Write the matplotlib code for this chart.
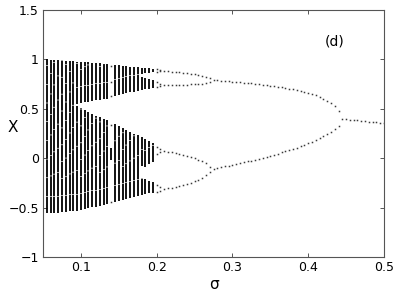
import matplotlib
matplotlib.use('Agg')
import matplotlib.pyplot as plt
import numpy as np

nan = np.nan

# chaotic columns: full band from bottom to top, split by a gap where given
chaos_sigma = [0.05, 0.055, 0.06, 0.065, 0.07, 0.075, 0.08, 0.085, 0.09,
               0.095, 0.1, 0.105, 0.11, 0.115, 0.12, 0.125, 0.13, 0.135,
               0.145, 0.15, 0.155, 0.16, 0.165, 0.17, 0.175]
chaos_top = [1.0, 1.0, 0.998, 0.995, 0.992, 0.99, 0.987, 0.984, 0.981,
             0.978, 0.975, 0.972, 0.969, 0.966, 0.963, 0.96, 0.956, 0.952,
             0.945, 0.94, 0.936, 0.932, 0.928, 0.924, 0.92]
chaos_bottom = [-0.56, -0.558, -0.556, -0.553, -0.55, -0.547, -0.543, -0.539,
                -0.535, -0.53, -0.525, -0.515, -0.505, -0.497, -0.49, -0.482,
                -0.474, -0.465, -0.445, -0.435, -0.425, -0.415, -0.405,
                -0.395, -0.385]
gap_upper = [nan, nan, nan, nan, nan, nan, nan, nan, nan,
             0.55, 0.56, 0.565, 0.57, 0.578, 0.585, 0.59, 0.595, 0.60,
             0.625, 0.635, 0.645, 0.655, 0.665, 0.675, 0.685]
gap_lower = [nan, nan, nan, nan, nan, nan, nan, nan, nan,
             0.53, 0.51, 0.49, 0.47, 0.45, 0.43, 0.415, 0.40, 0.385,
             0.35, 0.33, 0.31, 0.29, 0.27, 0.25, 0.23]

# periodic window inside the chaos
window_sigma = 0.14
window_x = [0.93, 0.77, 0.63, 0.34, -0.44]
window_bar = (-0.02, 0.10)

# narrow bands before the period-8 orbit
band_sigma = [0.18, 0.185, 0.19, 0.195]
band_edges = [
    [(0.85, 0.915), (0.69, 0.82), (-0.08, 0.21), (-0.375, -0.20)],
    [(0.86, 0.91), (0.70, 0.81), (-0.09, 0.19), (-0.36, -0.21)],
    [(0.865, 0.91), (0.70, 0.80), (-0.06, 0.17), (-0.355, -0.23)],
    [(0.87, 0.905), (0.71, 0.79), (-0.04, 0.15), (-0.35, -0.24)],
]

# period 8
p8_sigma = [0.2, 0.205]
p8_x = [[0.905, 0.875, 0.77, 0.72, 0.11, 0.04, -0.27, -0.345],
        [0.895, 0.88, 0.755, 0.73, 0.09, 0.06, -0.29, -0.33]]

# period 4
p4_sigma = [0.21, 0.215, 0.22, 0.225, 0.23, 0.235, 0.24, 0.245, 0.25,
            0.255, 0.26, 0.265, 0.27]
p4_a = [0.885, 0.881, 0.877, 0.873, 0.868, 0.863, 0.858, 0.853, 0.848,
        0.842, 0.835, 0.825, 0.81]
p4_b = [0.74, 0.74, 0.741, 0.742, 0.743, 0.744, 0.745, 0.746, 0.748,
        0.75, 0.755, 0.76, 0.77]
p4_c = [0.073, 0.067, 0.06, 0.052, 0.043, 0.033, 0.022, 0.01, -0.002,
        -0.015, -0.03, -0.05, -0.085]
p4_d = [-0.313, -0.306, -0.298, -0.29, -0.28, -0.27, -0.26, -0.248, -0.235,
        -0.22, -0.20, -0.17, -0.14]

# period 2
p2_sigma = [0.275, 0.28, 0.285, 0.29, 0.295, 0.3, 0.305, 0.31, 0.315, 0.32,
            0.325, 0.33, 0.335, 0.34, 0.345, 0.35, 0.355, 0.36, 0.365, 0.37,
            0.375, 0.38, 0.385, 0.39, 0.395, 0.4, 0.405, 0.41, 0.415, 0.42,
            0.425, 0.43, 0.435, 0.44]
p2_upper = [0.79, 0.788, 0.785, 0.782, 0.779, 0.776, 0.773, 0.77, 0.766,
            0.762, 0.758, 0.755, 0.75, 0.745, 0.74, 0.735, 0.73, 0.725, 0.72,
            0.71, 0.705, 0.70, 0.69, 0.68, 0.67, 0.66, 0.65, 0.635, 0.62,
            0.60, 0.58, 0.56, 0.53, 0.48]
p2_lower = [-0.11, -0.10, -0.092, -0.084, -0.076, -0.068, -0.06, -0.051,
            -0.042, -0.033, -0.024, -0.015, -0.005, 0.005, 0.015, 0.025,
            0.036, 0.047, 0.058, 0.07, 0.082, 0.095, 0.108, 0.122, 0.137,
            0.152, 0.168, 0.185, 0.203, 0.222, 0.243, 0.266, 0.292, 0.33]

# period 1
p1_sigma = [0.445, 0.45, 0.455, 0.46, 0.465, 0.47, 0.475, 0.48, 0.485, 0.49,
            0.495, 0.5]
p1_x = [0.40, 0.395, 0.39, 0.386, 0.382, 0.378, 0.374, 0.37, 0.366, 0.362,
        0.358, 0.355]

fig = plt.figure(figsize=(3.99, 2.91), dpi=100)
ax = fig.add_axes([43 / 399, 1 - 257 / 291, 341 / 399, 247 / 291])

dot = dict(linestyle='none', marker='s', markersize=1.1, markeredgewidth=0,
           color='#3a3a3a')


def stripe(i):
    # faintly broken texture so the stripes look like piled-up iterates
    return dict(colors='black', linewidth=1.3,
                linestyles=[(i % 5, (9 + i % 5, 0.35))])


for i, (s, t, b, gu, gl) in enumerate(zip(chaos_sigma, chaos_top,
                                          chaos_bottom, gap_upper,
                                          gap_lower)):
    if np.isnan(gu):
        ax.vlines(s, b, t, **stripe(i))
    else:
        ax.vlines([s, s], [b, gu], [gl, t], **stripe(i))

ax.plot([window_sigma] * len(window_x), window_x, **dot)
ax.vlines(window_sigma, window_bar[0], window_bar[1], **stripe(1))

for i, (s, edges) in enumerate(zip(band_sigma, band_edges)):
    ax.vlines([s] * len(edges), [e[0] for e in edges], [e[1] for e in edges],
              **stripe(i))

for s, xs in zip(p8_sigma, p8_x):
    ax.plot([s] * len(xs), xs, **dot)

for branch in (p4_a, p4_b, p4_c, p4_d):
    ax.plot(p4_sigma, branch, **dot)
for branch in (p2_upper, p2_lower):
    ax.plot(p2_sigma, branch, **dot)
ax.plot(p1_sigma, p1_x, **dot)

ax.set_xlim(0.05, 0.5)
ax.set_ylim(-1, 1.5)
ax.set_xticks([0.1, 0.2, 0.3, 0.4, 0.5])
ax.set_xticklabels(['0.1', '0.2', '0.3', '0.4', '0.5'])
ax.set_yticks([-1, -0.5, 0, 0.5, 1, 1.5])
ax.set_yticklabels(['\u22121', '\u22120.5', '0', '0.5', '1', '1.5'])
ax.tick_params(direction='in', top=True, right=True, length=3, width=0.7,
               color='#555555', labelsize=9, pad=3)
for sp in ax.spines.values():
    sp.set_color('#555555')
    sp.set_linewidth(0.8)

ax.set_ylabel('X', rotation=0, fontsize=11, ha='center', va='center')
ax.yaxis.set_label_coords(-0.088, 0.526)
ax.set_xlabel('\u03c3', fontsize=11, va='top')
ax.xaxis.set_label_coords(0.5, -0.08)
ax.text(0.435, 1.18, '(d)', fontsize=10, ha='center', va='center')

fig.savefig('out.png', dpi=100)
